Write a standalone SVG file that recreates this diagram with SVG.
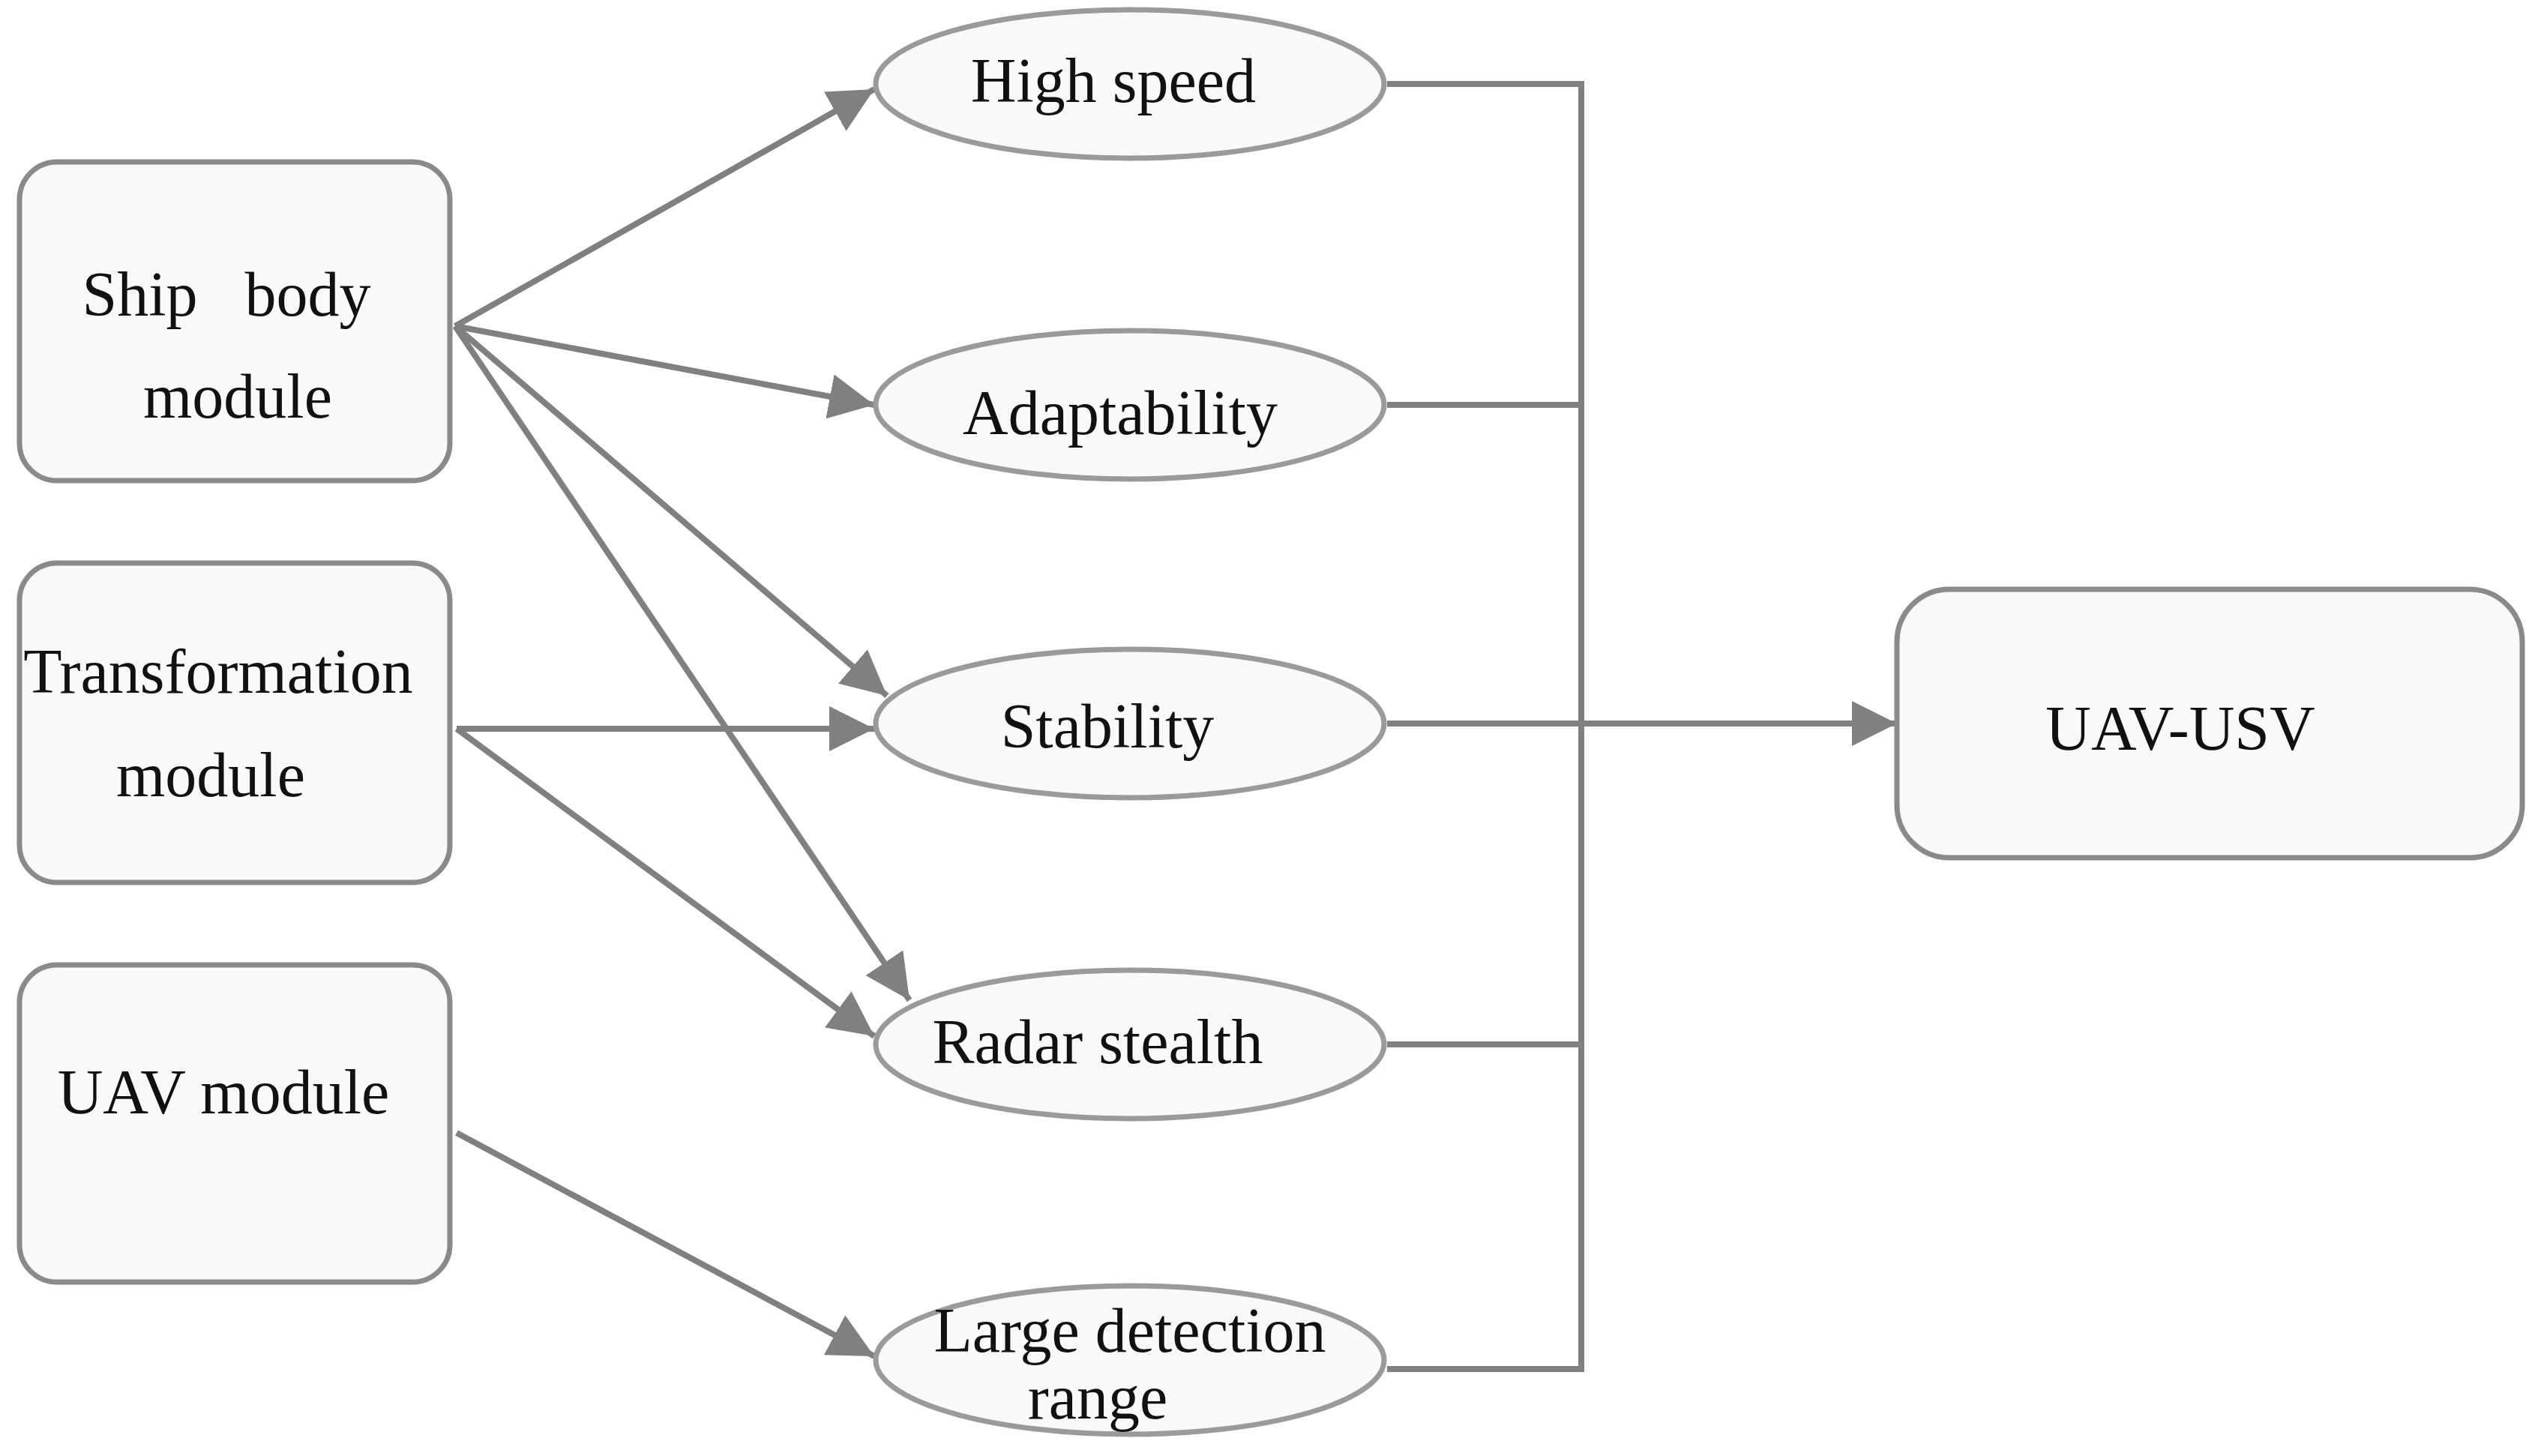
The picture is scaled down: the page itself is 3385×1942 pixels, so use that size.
<svg xmlns="http://www.w3.org/2000/svg" width="3385" height="1942" viewBox="0 0 3385 1942">
<defs>
<marker id="ah" markerUnits="userSpaceOnUse" markerWidth="60" markerHeight="60" refX="50" refY="25" orient="auto" viewBox="0 0 50 50"><path d="M0,0 L50,25 L0,50 Z" fill="#808080"/></marker>
</defs>
<style>
.box{fill:#f8f9fa;stroke:#8a8a8a;stroke-width:7}
.ell{fill:#f8f9fa;stroke:#9a9a9a;stroke-width:7}
.ln{fill:none;stroke:#808080;stroke-width:8}
.ar{fill:none;stroke:#808080;stroke-width:8;marker-end:url(#ah)}
text{font-family:"Liberation Serif","Times New Roman",serif;font-size:84px;fill:#111;text-anchor:middle}
</style>
<rect width="3385" height="1942" fill="#fff"/>
<g id="connectors">
<path class="ln" d="M1850,112 H2109 V1826 H1850"/>
<path class="ln" d="M1850,540 H2109"/>
<path class="ln" d="M1850,1393 H2109"/>
<path class="ar" d="M1850,965 H2530"/>
<path class="ar" d="M607,435 L1166,119"/>
<path class="ar" d="M607,435 L1166,540"/>
<path class="ar" d="M607,435 L1183,928"/>
<path class="ar" d="M607,435 L1213,1334"/>
<path class="ar" d="M609,972 L1166,972"/>
<path class="ar" d="M609,972 L1166,1382"/>
<path class="ar" d="M609,1511 L1166,1809"/>
</g>
<g id="ship"><rect class="box" x="26" y="216" width="574" height="425" rx="50"/><text x="302" y="421" xml:space="preserve">Ship   body</text><text x="317" y="557">module</text></g>
<g id="transform"><rect class="box" x="26" y="751" width="574" height="426" rx="50"/><text x="291" y="924">Transformation</text><text x="281" y="1062">module</text></g>
<g id="uav"><rect class="box" x="26" y="1287" width="574" height="423" rx="50"/><text x="298" y="1485">UAV module</text></g>
<g id="highspeed"><ellipse class="ell" cx="1507" cy="112" rx="339" ry="99"/><text x="1485" y="136">High speed</text></g>
<g id="adapt"><ellipse class="ell" cx="1507" cy="540" rx="339" ry="99"/><text x="1494" y="579">Adaptability</text></g>
<g id="stab"><ellipse class="ell" cx="1507" cy="965" rx="339" ry="99"/><text x="1477" y="997">Stability</text></g>
<g id="radar"><ellipse class="ell" cx="1507" cy="1393" rx="339" ry="99"/><text x="1464" y="1418">Radar stealth</text></g>
<g id="large"><ellipse class="ell" cx="1507" cy="1814" rx="339" ry="99"/><text x="1507" y="1803">Large detection</text><text x="1464" y="1892">range</text></g>
<g id="uavusv"><rect class="box" x="2530" y="786" width="834" height="358" rx="70"/><text x="2908" y="1000">UAV-USV</text></g>
</svg>
